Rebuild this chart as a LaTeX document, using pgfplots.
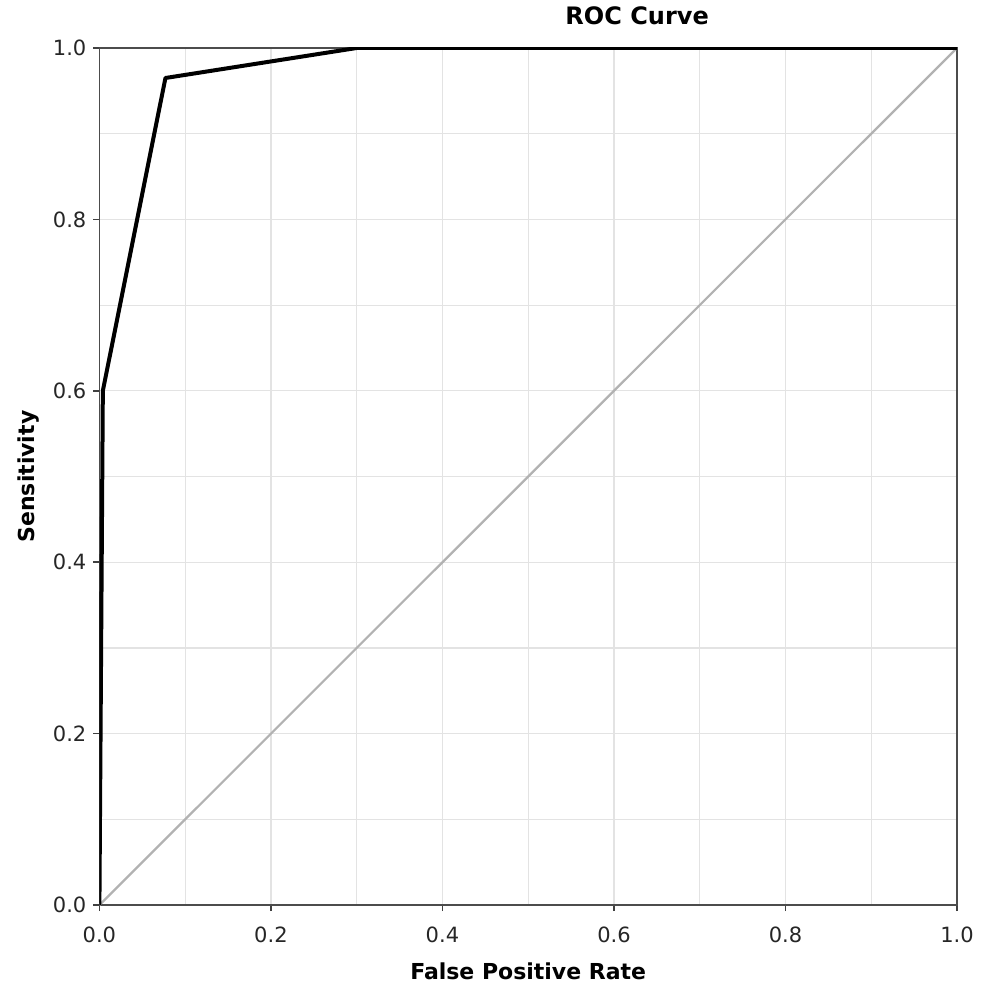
\documentclass[border=0pt]{standalone}
\usepackage{pgfplots}
\pgfplotsset{compat=1.18}
\usepackage{fontspec}
\setmainfont{DejaVu Sans}
\begin{document}
\begin{tikzpicture}
\begin{axis}[
  name=ax,
  width=428.75pt, height=428.5pt, scale only axis,
  xmin=0, xmax=1, ymin=0, ymax=1,
  xtick={0,0.2,0.4,0.6,0.8,1.0}, ytick={0,0.2,0.4,0.6,0.8,1.0},
  minor tick num=1,
  grid=both,
  major grid style={gray!22, line width=0.6pt},
  minor grid style={gray!22, line width=0.6pt},
  minor tick length=0pt,
  major tick length=3pt,
  tick align=outside,
  tick pos=left,
  tick style={black!75, line width=0.8pt},
  axis line style={black!70, line width=0.8pt},
  xticklabel style={yshift=-4.5pt, /pgf/number format/.cd, fixed, fixed zerofill, precision=1},
  yticklabel style={/pgf/number format/.cd, fixed, fixed zerofill, precision=1},
  /pgf/number format/assume math mode=true,
  ticklabel style={font=\fontsize{10.5}{12}\selectfont, text=black!85},
  xlabel={\textbf{False Positive Rate}},
  ylabel={\textbf{Sensitivity}},
  label style={font=\fontsize{11}{13}\selectfont},
  xlabel style={yshift=-3pt},
  title={\textbf{ROC Curve}},
  title style={font=\fontsize{12}{14}\selectfont, at={(0.627,1)}, anchor=south, yshift=2pt},
]
\addplot[gray!60, line width=1.1pt] coordinates {(0,0) (1,1)};
\addplot[black, line width=2pt, line join=round] coordinates {
  (0,0) (0.004,0.6) (0.077,0.965) (0.30,1.0) (1.0,1.0)};
\end{axis}
\pgfresetboundingbox
\path ([xshift=-49.7pt,yshift=-39.5pt]ax.south west) rectangle ([xshift=14pt,yshift=24pt]ax.north east);
\end{tikzpicture}
\end{document}
